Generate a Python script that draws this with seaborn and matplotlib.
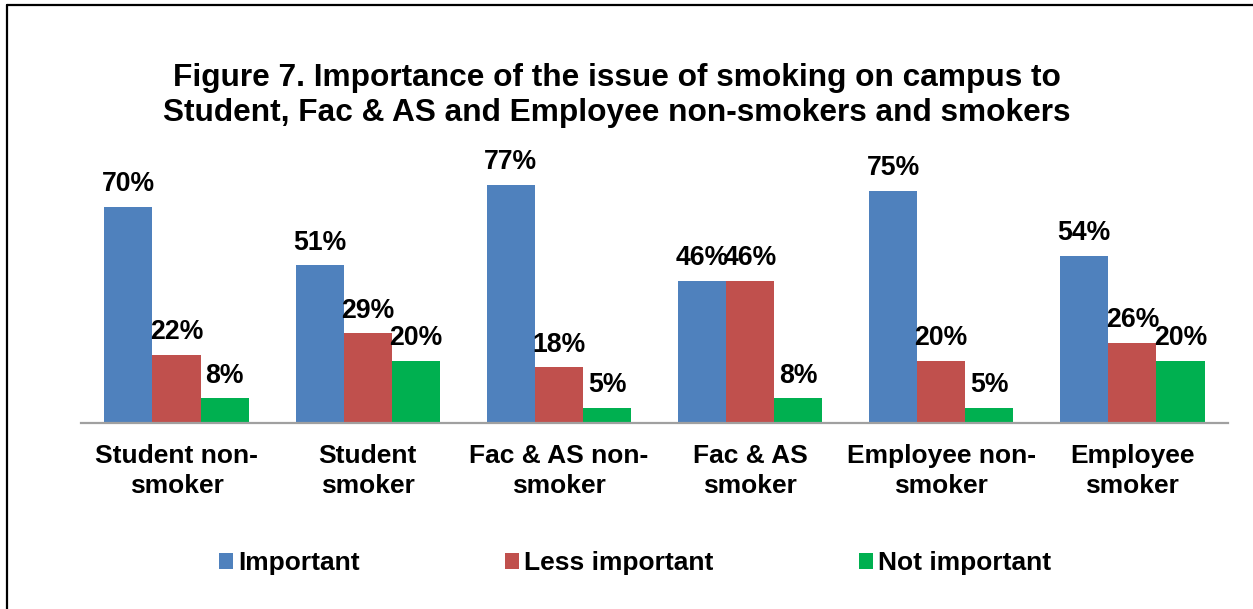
import matplotlib
matplotlib.use("Agg")
import matplotlib.pyplot as plt
from matplotlib.lines import Line2D
import seaborn as sns
import pandas as pd

groups = ["Student non-\nsmoker", "Student\nsmoker", "Fac & AS non-\nsmoker",
          "Fac & AS\nsmoker", "Employee non-\nsmoker", "Employee\nsmoker"]
series = ["Important", "Less important", "Not important"]
important = [70, 51, 77, 46, 75, 54]
less_important = [22, 29, 18, 46, 20, 26]
not_important = [8, 20, 5, 8, 5, 20]
colors = ["#4F81BD", "#C0504D", "#00B050"]

rows = []
for name, vals in zip(series, [important, less_important, not_important]):
    for g, v in zip(groups, vals):
        rows.append({"group": g, "series": name, "value": v})
df = pd.DataFrame(rows)

sns.set_style("white")
plt.rcParams["font.family"] = ["Liberation Sans", "DejaVu Sans"]
plt.rcParams["font.weight"] = "bold"
plt.rcParams["text.color"] = "black"
plt.rcParams["xtick.color"] = "black"
plt.rcParams["xtick.labelcolor"] = "black"
plt.rcParams["axes.labelcolor"] = "black"

fig = plt.figure(figsize=(12.53, 6.09), dpi=100)
ax = fig.add_axes([0.0646, 0.3054, 0.9154, 0.457])

sns.barplot(data=df, x="group", y="value", hue="series", order=groups,
            hue_order=series, palette=colors, width=0.755, saturation=1,
            linewidth=0, ax=ax, legend=True)

ax.set_ylim(0, 90)
ax.set_xlim(-0.5, len(groups) - 0.5)
ax.set_xlabel("")
ax.set_ylabel("")
ax.set_yticks([])
ax.tick_params(axis="x", length=0, pad=15, labelsize=19, labelcolor="black")
for lbl in ax.get_xticklabels():
    lbl.set_fontweight("bold")
    lbl.set_linespacing(1.35)
for side in ["left", "right", "top"]:
    ax.spines[side].set_visible(False)
ax.spines["bottom"].set_color("#A0A0A0")
ax.spines["bottom"].set_linewidth(1.6)

for container in ax.containers:
    for bar in container:
        h = bar.get_height()
        ax.annotate(f"{h:.0f}%", (bar.get_x() + bar.get_width() / 2, h),
                    xytext=(0, 7), textcoords="offset points",
                    ha="center", va="bottom", fontsize=19.2, fontweight="bold",
                    color="black")

handles, labels = ax.get_legend_handles_labels()
ax.legend_.remove()
fig.legend(handles, labels, loc="center", bbox_to_anchor=(0.507, 0.075),
           ncol=3, frameon=False, handlelength=0.53,
           handleheight=0.53, handletextpad=0.2, columnspacing=5.5,
           labelcolor="black", prop={"size": 19, "weight": "bold"})

fig.suptitle("Figure 7. Importance of the issue of smoking on campus to\n"
             "Student, Fac & AS and Employee non-smokers and smokers",
             x=0.4925, y=0.897, fontsize=22.8, fontweight="bold",
             linespacing=1.22, color="black")

# frame lines along the left and top edges
fig.add_artist(Line2D([0.0052, 0.0052], [0, 0.992], transform=fig.transFigure,
                      color="black", linewidth=1.6))
fig.add_artist(Line2D([0.0052, 1.0], [0.992, 0.992], transform=fig.transFigure,
                      color="black", linewidth=1.6))

fig.savefig("out.png", dpi=100)
